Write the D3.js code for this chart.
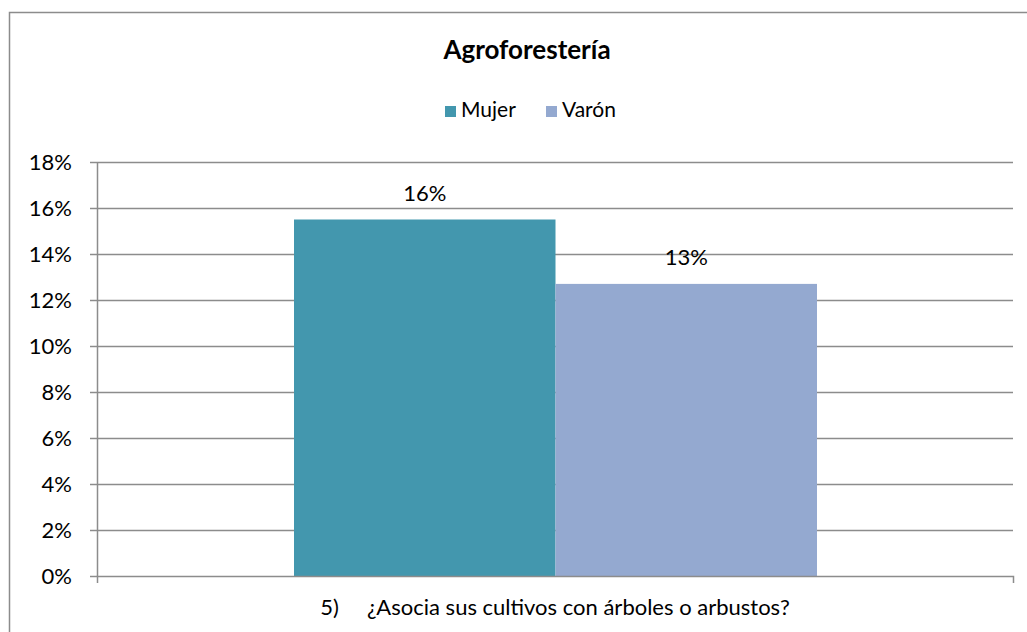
<!DOCTYPE html>
<html>
<head>
<meta charset="utf-8">
<script src="https://cdn.jsdelivr.net/npm/d3@7"></script>
<style>
  body { margin: 0; background: #fff; }
  text { font-family: Lato, "Open Sans", sans-serif; fill: #000; white-space: pre; }
</style>
</head>
<body>
<div id="chart"></div>
<script>
const categories = ["5)     ¿Asocia sus cultivos con árboles o arbustos?"]
const series = ["Mujer", "Varón"]
const mujerValues = [0.155]
const varonValues = [0.127]
const valueLabels = [["16%"], ["13%"]]
const yTicks = [0, 0.02, 0.04, 0.06, 0.08, 0.10, 0.12, 0.14, 0.16, 0.18]
const colors = ["#4397ae", "#94a9d0"]

const dimensions = {
    width: 1027,
    height: 632,
    margin: { top: 162, right: 14, bottom: 56, left: 97 }
}
dimensions.boundedWidth = dimensions.width - dimensions.margin.left - dimensions.margin.right
dimensions.boundedHeight = dimensions.height - dimensions.margin.top - dimensions.margin.bottom

const wrapper = d3.select("#chart")
    .append("svg")
        .attr("width", dimensions.width)
        .attr("height", dimensions.height)

// outer chart border (runs off right and bottom)
wrapper.append("rect")
    .attr("x", 9.5).attr("y", 12.5)
    .attr("width", 1040).attr("height", 640)
    .attr("fill", "none").attr("stroke", "#8c8c8c").attr("stroke-width", 1.5)

wrapper.append("text")
    .attr("x", 527).attr("y", 59)
    .attr("text-anchor", "middle")
    .style("font-size", "26px").style("font-weight", "bold")
    .text("Agroforestería")

// legend
const legend = wrapper.append("g")
const legendItems = [{ x: 445, name: series[0], color: colors[0] }, { x: 546, name: series[1], color: colors[1] }]
legendItems.forEach(d => {
    legend.append("rect").attr("x", d.x).attr("y", 106).attr("width", 11).attr("height", 11).attr("fill", d.color)
    legend.append("text").attr("x", d.x + 16).attr("y", 117).style("font-size", "21px").text(d.name)
})

const bounds = wrapper.append("g")
    .attr("transform", `translate(${dimensions.margin.left},${dimensions.margin.top})`)

const yScale = d3.scaleLinear()
    .domain([0, 0.18])
    .range([dimensions.boundedHeight, 0])

const xScale = d3.scaleBand()
    .domain(categories)
    .range([0, dimensions.boundedWidth])
    .paddingInner(0).paddingOuter(0)

const groupScale = d3.scaleBand()
    .domain(series)
    .range([197, 720])

// gridlines
bounds.append("g")
    .selectAll("line")
    .data(yTicks.slice(1))
    .join("line")
        .attr("x1", 0).attr("x2", dimensions.boundedWidth)
        .attr("y1", d => Math.round(yScale(d)) + 0.5).attr("y2", d => Math.round(yScale(d)) + 0.5)
        .attr("stroke", "#8c8c8c").attr("stroke-width", 1.5)

const seriesValues = [mujerValues, varonValues]
series.forEach((s, i) => {
    const g = bounds.append("g")
    g.selectAll("rect")
        .data(seriesValues[i])
        .join("rect")
            .attr("x", (d, j) => xScale(categories[j]) + groupScale(s))
            .attr("width", groupScale.bandwidth())
            .attr("y", d => yScale(d))
            .attr("height", d => dimensions.boundedHeight - yScale(d))
            .attr("fill", colors[i])
    g.selectAll("text")
        .data(seriesValues[i])
        .join("text")
            .attr("x", (d, j) => xScale(categories[j]) + groupScale(s) + groupScale.bandwidth() / 2)
            .attr("y", d => yScale(d) - 19)
            .attr("text-anchor", "middle")
            .style("font-size", "22px")
            .text((d, j) => valueLabels[i][j])
})

// y axis
const yAxisGenerator = d3.axisLeft(yScale)
    .tickValues(yTicks)
    .tickFormat(d3.format(".0%"))
    .tickSize(7)
    .tickPadding(18)
    .tickSizeOuter(0)
const yAxis = bounds.append("g").call(yAxisGenerator)
yAxis.selectAll("line, path").attr("stroke", "#8c8c8c").attr("stroke-width", 1.5)
yAxis.selectAll("text").style("font-size", "22px").attr("fill", "#000")
    .attr("font-family", "Lato, 'Open Sans', sans-serif")

// x axis
const xAxisGenerator = d3.axisBottom(xScale)
    .tickSize(0)
    .tickPadding(23)
    .tickSizeOuter(7)
const xAxis = bounds.append("g")
    .attr("transform", `translate(0,${dimensions.boundedHeight})`)
    .call(xAxisGenerator)
xAxis.select("path").attr("stroke", "#8c8c8c").attr("stroke-width", 1.5)
xAxis.selectAll("text").style("font-size", "22px").attr("fill", "#000")
    .attr("font-family", "Lato, 'Open Sans', sans-serif")
</script>
</body>
</html>
